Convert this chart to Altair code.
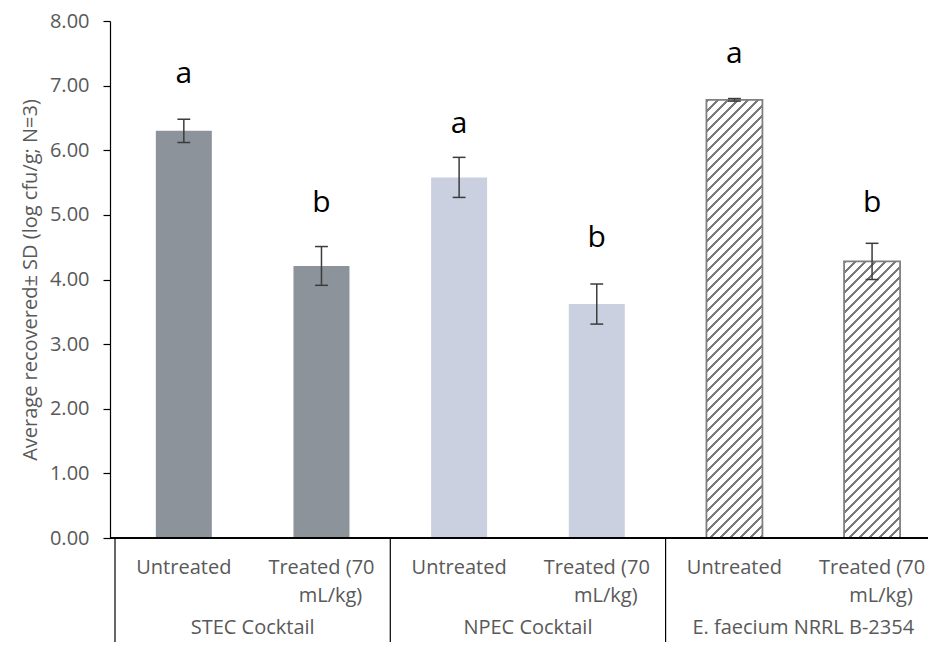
import altair as alt
import numpy as np
import pandas as pd

# ---------------- data ----------------
groups = ["STEC Cocktail", "STEC Cocktail", "NPEC Cocktail", "NPEC Cocktail",
          "E. faecium NRRL B-2354", "E. faecium NRRL B-2354"]
treatments = ["Untreated", "Treated (70 mL/kg)"] * 3
means = [6.30, 4.21, 5.58, 3.62, 6.78, 4.28]
sds = [0.18, 0.30, 0.31, 0.31, 0.02, 0.28]
letters = ["a", "b", "a", "b", "a", "b"]
letter_heights = [7.04, 5.05, 6.26, 4.51, 7.35, 5.05]
group_names = ["STEC Cocktail", "NPEC Cocktail", "E. faecium NRRL B-2354"]
label_line1 = ["Untreated", "Treated (70"] * 3
label_line2 = ["", "mL/kg)"] * 3
y_ticks = [0, 1, 2, 3, 4, 5, 6, 7, 8]
y_title = "Average recovered± SD  (log cfu/g; N=3)"

# ---------------- layout ----------------
W, H = 818, 517
XMAX = 5.87
YMAX = 8
px_x = W / XMAX
BAR_W = 56
FONT = "Open Sans"
GRAY_TXT = "#595959"
BOTTOM = 104

df = pd.DataFrame({
    "group": groups,
    "treatment": treatments,
    "mean": means,
    "sd": sds,
    "letter": letters,
    "letter_y": letter_heights,
    "line1": label_line1,
    "line2": label_line2,
})
df["pos"] = np.arange(len(df)) + 0.5
df["lo"] = df["mean"] - df["sd"]
df["hi"] = df["mean"] + df["sd"]
cap = 6.5 / px_x
df["cl"] = df["pos"] - cap
df["cr"] = df["pos"] + cap
df["idx"] = np.arange(len(df))

gdf = pd.DataFrame({"gname": group_names})
gdf["center"] = np.arange(len(gdf)) * 2 + 1.0
gdf["start"] = np.arange(len(gdf)) * 2.0

xs = alt.Scale(domain=[0, XMAX], nice=False, zero=False)
ys = alt.Scale(domain=[0, YMAX], nice=False, zero=True)

base = alt.Chart(df)
X = alt.X("pos:Q", scale=xs, axis=None)

yaxis = alt.Axis(values=y_ticks, format=".2f", title=y_title, grid=False,
                 domainColor="black", domainWidth=1.2, tickColor="black",
                 tickSize=7, tickWidth=1.2, labelPadding=14, labelFontSize=20,
                 labelColor=GRAY_TXT, labelFont=FONT, titleFont=FONT,
                 titleFontSize=20, titleFontWeight="normal", titleColor=GRAY_TXT,
                 titlePadding=9)

solid = base.transform_filter("datum.idx < 4").mark_bar(size=BAR_W).encode(
    x=X,
    y=alt.Y("mean:Q", scale=ys, axis=yaxis),
    color=alt.Color("group:N", legend=None,
                    scale=alt.Scale(domain=["STEC Cocktail", "NPEC Cocktail"],
                                    range=["#8d939b", "#cad0e0"])),
)


def hatch_gradient(value):
    """Diagonal '////' stripes for a bar of the given value (bbox-unit gradient)."""
    hpx = value / YMAX * H
    wpx = BAR_W
    s = (wpx + hpx) / (wpx ** 2 + hpx ** 2)
    period = 10.0 / (wpx + hpx)
    line = 3.2 / (wpx + hpx)
    stops = []
    k = 0
    while k * period < 1:
        a = k * period
        b = min(a + line, 1.0)
        c = min((k + 1) * period, 1.0)
        stops += [alt.GradientStop(color="#7a7a7a", offset=a),
                  alt.GradientStop(color="#7a7a7a", offset=b),
                  alt.GradientStop(color="#ffffff", offset=b),
                  alt.GradientStop(color="#ffffff", offset=c)]
        k += 1
    return alt.LinearGradient(gradient="linear", stops=stops,
                              x1=0, y1=0, x2=s * wpx, y2=s * hpx)


hatched = []
for i in [4, 5]:
    hatched.append(
        base.transform_filter(f"datum.idx == {i}").mark_bar(
            size=BAR_W, fill=hatch_gradient(means[i]), stroke="#808080",
            strokeWidth=1.8).encode(x=X, y=alt.Y("mean:Q", scale=ys))
    )

err = base.mark_rule(color="#3c3c3c", strokeWidth=1.5).encode(
    x=X, y=alt.Y("lo:Q", scale=ys), y2="hi:Q")
cap_lo = base.mark_rule(color="#3c3c3c", strokeWidth=1.5).encode(
    x=alt.X("cl:Q", scale=xs, axis=None), x2="cr:Q", y=alt.Y("lo:Q", scale=ys))
cap_hi = base.mark_rule(color="#3c3c3c", strokeWidth=1.5).encode(
    x=alt.X("cl:Q", scale=xs, axis=None), x2="cr:Q", y=alt.Y("hi:Q", scale=ys))

letters_layer = base.mark_text(font=FONT, fontSize=30, color="black",
                               baseline="alphabetic").encode(
    x=X, y=alt.Y("letter_y:Q", scale=ys), text="letter:N")

baseline_rule = base.mark_rule(color="black", strokeWidth=1.2).encode(
    x=alt.value(0), x2=alt.value(W), y=alt.value(H))

seps = alt.Chart(gdf).mark_rule(color="black", strokeWidth=1.2).encode(
    x=alt.X("start:Q", scale=xs, axis=None), y=alt.value(H), y2=alt.value(H + BOTTOM))

row1 = base.mark_text(font=FONT, fontSize=20, color=GRAY_TXT,
                      baseline="alphabetic").encode(
    x=X, y=alt.value(H + 36), text="line1:N")
row2 = base.mark_text(font=FONT, fontSize=20, color=GRAY_TXT,
                      baseline="alphabetic", dx=9).encode(
    x=X, y=alt.value(H + 64), text="line2:N")
grow = alt.Chart(gdf).mark_text(font=FONT, fontSize=20, color=GRAY_TXT,
                                baseline="alphabetic").encode(
    x=alt.X("center:Q", scale=xs, axis=None), y=alt.value(H + 96), text="gname:N")

chart = alt.layer(
    solid, *hatched, err, cap_lo, cap_hi, letters_layer,
    baseline_rule, seps, row1, row2, grow
).properties(
    width=W, height=H,
    autosize=alt.AutoSizeParams(type="none"),
    padding={"left": 102, "top": 13, "right": 0, "bottom": BOTTOM},
    background="white",
).configure_view(stroke=None)

chart.save("out.html", embed_options={"renderer": "svg", "actions": False})
